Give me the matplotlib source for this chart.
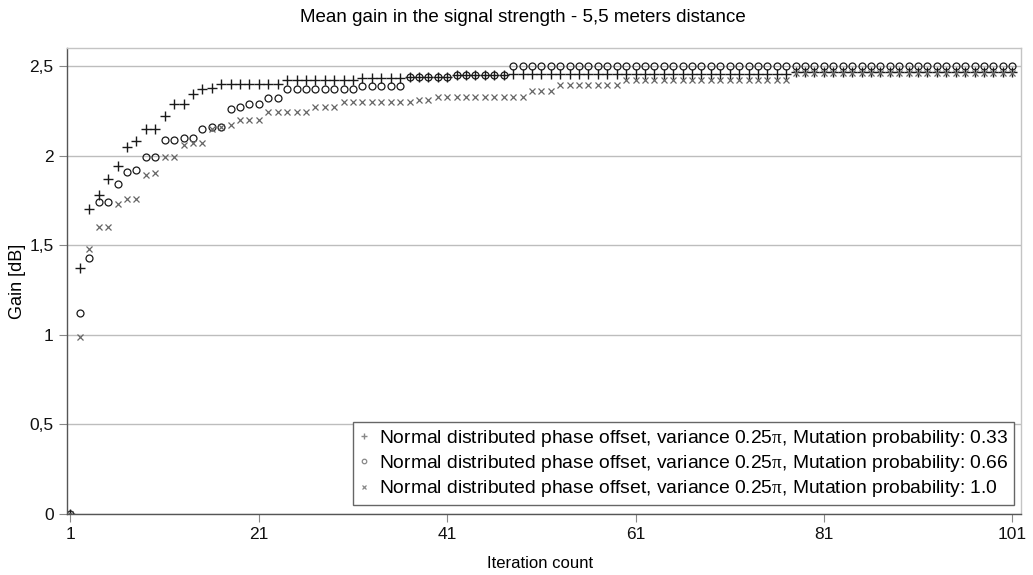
import numpy as np
import matplotlib.pyplot as plt

plt.rcParams['font.family'] = ['Liberation Sans', 'DejaVu Sans']
plt.rcParams['mathtext.fontset'] = 'custom'
plt.rcParams['mathtext.rm'] = 'Liberation Serif'

# iterations 1..101
iterations = list(range(1, 102))

# mutation probability 0.33  (+)
gain_033 = [
    0.00, 1.37, 1.70, 1.78, 1.87, 1.94, 2.05, 2.08, 2.15, 2.15,
    2.22, 2.29, 2.29, 2.345, 2.37, 2.375, 2.40, 2.40, 2.40, 2.40,
    2.40, 2.40, 2.40, 2.42, 2.42, 2.42, 2.42, 2.42, 2.42, 2.42,
    2.42, 2.43, 2.43, 2.43, 2.43, 2.43, 2.44, 2.44, 2.44, 2.44,
    2.44, 2.45, 2.45, 2.45, 2.45, 2.45, 2.45, 2.455, 2.455, 2.455,
    2.455, 2.455, 2.455, 2.455, 2.455, 2.455, 2.455, 2.455, 2.455, 2.455,
    2.455, 2.455, 2.455, 2.455, 2.455, 2.455, 2.455, 2.455, 2.455, 2.455,
    2.455, 2.455, 2.455, 2.455, 2.455, 2.455, 2.455, 2.465, 2.465, 2.465,
    2.465, 2.465, 2.465, 2.465, 2.465, 2.465, 2.465, 2.465, 2.465, 2.465,
    2.465, 2.465, 2.465, 2.465, 2.465, 2.465, 2.465, 2.465, 2.465, 2.465,
    2.465,
]

# mutation probability 0.66  (o)
gain_066 = [
    0.00, 1.12, 1.43, 1.74, 1.74, 1.84, 1.91, 1.92, 1.99, 1.99,
    2.085, 2.085, 2.10, 2.10, 2.15, 2.16, 2.16, 2.26, 2.27, 2.285,
    2.285, 2.32, 2.32, 2.37, 2.37, 2.37, 2.37, 2.37, 2.37, 2.37,
    2.37, 2.39, 2.39, 2.39, 2.39, 2.39, 2.44, 2.44, 2.44, 2.44,
    2.44, 2.45, 2.45, 2.45, 2.45, 2.45, 2.45, 2.50, 2.50, 2.50,
    2.50, 2.50, 2.50, 2.50, 2.50, 2.50, 2.50, 2.50, 2.50, 2.50,
    2.50, 2.50, 2.50, 2.50, 2.50, 2.50, 2.50, 2.50, 2.50, 2.50,
    2.50, 2.50, 2.50, 2.50, 2.50, 2.50, 2.50, 2.50, 2.50, 2.50,
    2.50, 2.50, 2.50, 2.50, 2.50, 2.50, 2.50, 2.50, 2.50, 2.50,
    2.50, 2.50, 2.50, 2.50, 2.50, 2.50, 2.50, 2.50, 2.50, 2.50,
    2.50,
]

# mutation probability 1.0  (x)
gain_100 = [
    0.00, 0.99, 1.48, 1.60, 1.60, 1.73, 1.76, 1.76, 1.89, 1.90,
    1.99, 1.99, 2.06, 2.07, 2.07, 2.15, 2.16, 2.17, 2.20, 2.20,
    2.20, 2.245, 2.245, 2.245, 2.245, 2.245, 2.27, 2.27, 2.27, 2.30,
    2.30, 2.30, 2.30, 2.30, 2.30, 2.30, 2.30, 2.31, 2.31, 2.325,
    2.325, 2.325, 2.325, 2.325, 2.325, 2.325, 2.325, 2.325, 2.325, 2.36,
    2.36, 2.36, 2.395, 2.395, 2.395, 2.395, 2.395, 2.395, 2.395, 2.42,
    2.42, 2.42, 2.42, 2.42, 2.42, 2.42, 2.42, 2.42, 2.42, 2.42,
    2.42, 2.42, 2.42, 2.42, 2.42, 2.42, 2.42, 2.46, 2.46, 2.46,
    2.46, 2.46, 2.46, 2.46, 2.46, 2.46, 2.46, 2.46, 2.46, 2.46,
    2.46, 2.46, 2.46, 2.46, 2.46, 2.46, 2.46, 2.46, 2.46, 2.46,
    2.46,
]

labels = [
    r'Normal distributed phase offset, variance 0.25$\mathrm{π}$, Mutation probability: 0.33',
    r'Normal distributed phase offset, variance 0.25$\mathrm{π}$, Mutation probability: 0.66',
    r'Normal distributed phase offset, variance 0.25$\mathrm{π}$, Mutation probability: 1.0',
]

y_ticks = [0, 0.5, 1, 1.5, 2, 2.5]
y_ticklabels = ['0', '0,5', '1', '1,5', '2', '2,5']
x_ticks = [1, 21, 41, 61, 81, 101]

fig = plt.figure(figsize=(10.33, 5.75), dpi=100)
ax = fig.add_axes([0.0646, 0.1061, 0.9235, 0.8104])

ax.plot(iterations, gain_033, linestyle='none', marker='+', ms=6.5, mew=1.0,
        color='#1a1a1a', label=labels[0])
ax.plot(iterations, gain_066, linestyle='none', marker='o', ms=5, mew=0.9,
        mfc='none', mec='#1a1a1a', label=labels[1])
ax.plot(iterations, gain_100, linestyle='none', marker='x', ms=4.5, mew=0.9,
        color='#666666', label=labels[2])

ax.set_xlim(0.6, 101.9)
ax.set_ylim(0, 2.6)
ax.set_yticks(y_ticks)
ax.set_yticklabels(y_ticklabels)
ax.set_xticks(x_ticks)
ax.tick_params(axis='both', labelsize=12.5, length=6, width=0.8, direction='out',
               colors='#888888', labelcolor='#111111')
ax.grid(axis='y', color='#bdbdbd', linewidth=1.0)
ax.set_axisbelow(True)

for side in ['left', 'bottom']:
    ax.spines[side].set_color('#555555')
    ax.spines[side].set_linewidth(1.0)
for side in ['top', 'right']:
    ax.spines[side].set_color('#c4c4c4')
    ax.spines[side].set_linewidth(1.0)

leg = ax.legend(loc='lower right', bbox_to_anchor=(0.993, 0.019), fontsize=13.9,
                fancybox=False, framealpha=1, edgecolor='#666666',
                handlelength=0.6, handletextpad=0.45, borderpad=0.3,
                labelspacing=0.22, markerscale=0.65, borderaxespad=0)
leg.get_frame().set_linewidth(1.0)
for h in leg.legend_handles:
    h.set_color('#888888')
    h.set_markeredgecolor('#888888')

fig.text(0.506, 1 - 18 / 575, 'Mean gain in the signal strength - 5,5 meters distance',
         ha='center', va='center', fontsize=13.5)
fig.text(17 / 1033, 1 - 281 / 575, 'Gain [dB]', rotation=90, ha='center', va='center',
         fontsize=13)
fig.text(540 / 1033, 1 - 564 / 575, 'Iteration count', ha='center', va='center',
         fontsize=12)

fig.savefig('out.png', dpi=100)
